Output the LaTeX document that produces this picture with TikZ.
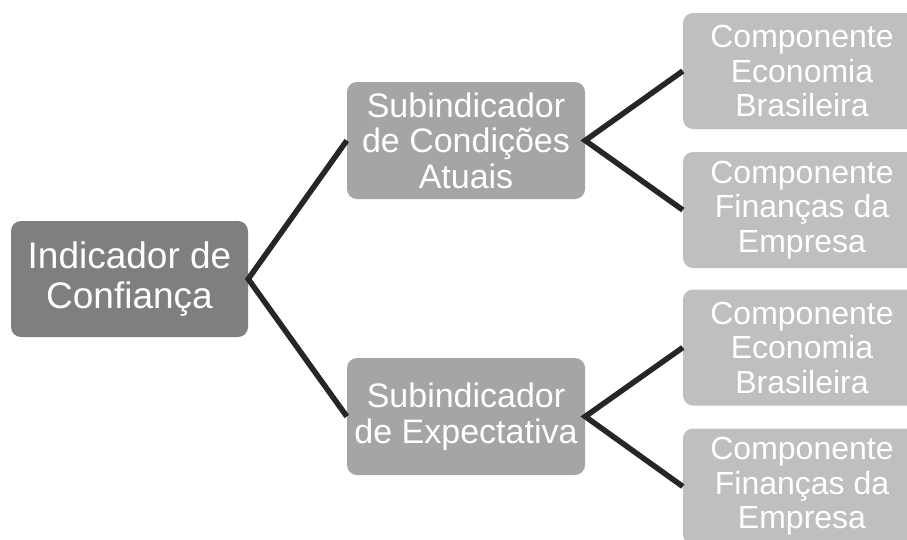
\documentclass[tikz,border=0pt]{standalone}
\usepackage{fontspec}
\setmainfont{Liberation Sans}
\begin{document}
\begin{tikzpicture}[x=1pt,y=-1pt,
  box/.style={rectangle, rounded corners=10pt, inner sep=0pt, align=center, text=white,
    minimum width=238pt, minimum height=116pt},
  rootbox/.style={box, fill=rootgray, minimum width=237pt, font=\fontsize{37}{40}\selectfont},
  subbox/.style={box, fill=subgray, minimum height=117pt, font=\fontsize{34}{35.5}\selectfont},
  leafbox/.style={box, fill=leafgray, font=\fontsize{32}{34.5}\selectfont},
  link/.style={line width=5.5pt, draw=linkgray, line join=miter}]
\definecolor{rootgray}{HTML}{7F7F7F}
\definecolor{subgray}{HTML}{A5A5A5}
\definecolor{leafgray}{HTML}{BFBFBF}
\definecolor{linkgray}{HTML}{262626}
\useasboundingbox (0,0) rectangle (907,539);
\clip (0,0) rectangle (907,539);
\fill[white] (0,0) rectangle (907,539);
\node[rootbox] (root) at (129.5,279) {Indicador de\\Confiança};
\node[subbox] (s1) at (466,140.5) {Subindicador\\de Condições\\Atuais};
\node[subbox] (s2) at (466,416.5) {Subindicador\\de Expectativa};
\node[leafbox] (l1) at (802,71) {Componente\\Economia\\Brasileira};
\node[leafbox] (l2) at (802,210) {Componente\\Finanças da\\Empresa};
\node[leafbox] (l3) at (802,347.5) {Componente\\Economia\\Brasileira};
\node[leafbox] (l4) at (802,486.5) {Componente\\Finanças da\\Empresa};
\draw[link] (s1.west) -- (root.east) -- (s2.west);
\draw[link] (l1.west) -- (s1.east) -- (l2.west);
\draw[link] (l3.west) -- (s2.east) -- (l4.west);
\end{tikzpicture}
\end{document}
